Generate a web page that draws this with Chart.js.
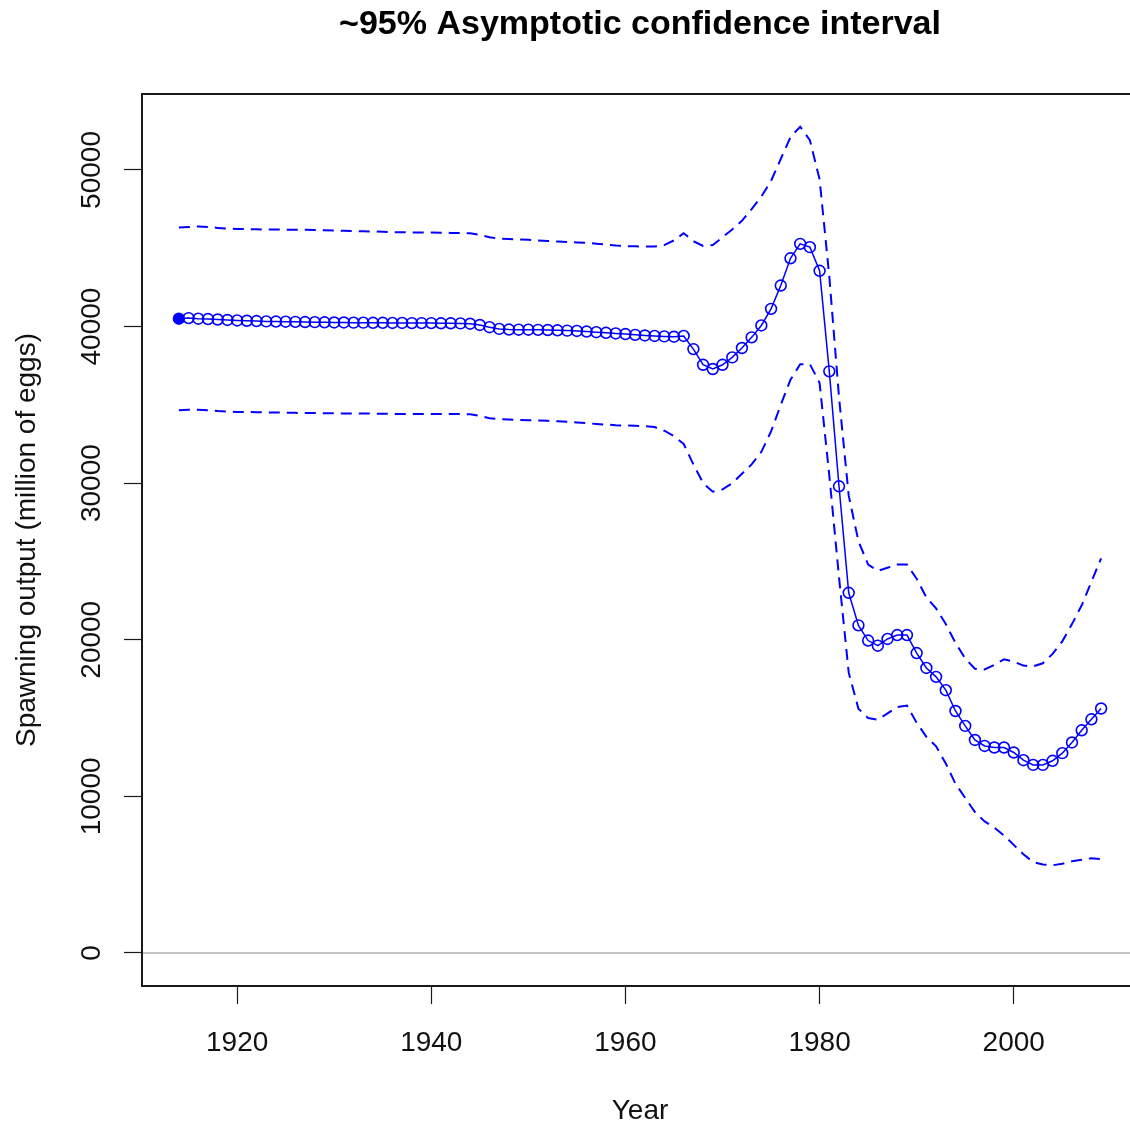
<!DOCTYPE html>
<html>
<head>
<meta charset="utf-8">
<script src="https://cdn.jsdelivr.net/npm/chart.js@4/dist/chart.umd.min.js"></script>
<style>
html,body{margin:0;padding:0;overflow:hidden;background:#ffffff;}
#wrap{width:1280px;height:1126px;position:relative;}
</style>
</head>
<body>
<div id="wrap"><canvas id="c" width="1280" height="1126"></canvas></div>
<script>
// ---- Data ----
const years = [1914,1915,1916,1917,1918,1919,1920,1921,1922,1923,1924,1925,1926,1927,1928,1929,
  1930,1931,1932,1933,1934,1935,1936,1937,1938,1939,1940,1941,1942,1943,1944,1945,1946,1947,1948,1949,
  1950,1951,1952,1953,1954,1955,1956,1957,1958,1959,1960,1961,1962,1963,1964,1965,1966,1967,1968,1969,
  1970,1971,1972,1973,1974,1975,1976,1977,1978,1979,1980,1981,1982,1983,1984,1985,1986,1987,1988,1989,
  1990,1991,1992,1993,1994,1995,1996,1997,1998,1999,2000,2001,2002,2003,2004,2005,2006,2007,2008,2009];

const spawningOutput = [40500,40540,40500,40480,40450,40420,40390,40370,40350,40330,40320,40310,40300,40290,40280,40270,
  40260,40260,40250,40250,40240,40240,40230,40230,40220,40220,40220,40210,40210,40200,40180,40100,39960,39850,39810,39800,
  39800,39790,39780,39760,39740,39720,39680,39640,39600,39560,39520,39470,39430,39400,39370,39350,39400,38560,37560,37290,
  37560,38030,38630,39310,40070,41130,42620,44360,45280,45070,43560,37140,29800,23000,20920,19950,19620,20050,20300,20300,
  19150,18200,17630,16780,15450,14500,13600,13220,13120,13120,12800,12310,12010,12010,12270,12760,13440,14220,14920,15610];

const upperCI = [46330,46360,46390,46360,46300,46250,46230,46220,46210,46200,46200,46190,46180,46180,46170,46150,
  46130,46110,46100,46080,46070,46050,46030,46020,46010,46000,46000,45990,45980,45970,45960,45860,45700,45610,45590,45570,
  45540,45500,45470,45430,45400,45370,45340,45290,45230,45170,45140,45120,45110,45110,45200,45500,45960,45450,45150,45200,
  45700,46200,46750,47500,48300,49300,50700,52100,52760,51900,49400,43200,35500,29200,26300,24800,24400,24600,24800,24800,
  23900,22700,22000,21000,19800,18800,18150,18100,18400,18750,18600,18350,18300,18500,19100,19900,21000,22200,23700,25200];

const lowerCI = [34650,34690,34690,34660,34600,34570,34550,34540,34530,34520,34510,34500,34490,34480,34480,34470,
  34460,34450,34450,34440,34440,34430,34420,34420,34420,34420,34420,34420,34420,34410,34400,34300,34150,34080,34060,34040,
  34020,34000,33980,33950,33920,33880,33830,33780,33740,33700,33680,33660,33650,33580,33350,33000,32500,31200,30000,29450,
  29600,30000,30600,31200,32000,33300,35000,36600,37600,37600,36400,30500,24000,17900,15600,15000,14900,15300,15700,15800,
  14700,13800,13200,12100,10800,9900,9000,8400,8000,7500,6900,6300,5800,5650,5600,5700,5850,5950,6050,6000];

const xTicks = [1920,1940,1960,1980,2000];
const yTicks = [0,10000,20000,30000,40000,50000];
const referenceLevel = 0;

const titleText = '~95% Asymptotic confidence interval';
const xTitle = 'Year';
const yTitle = 'Spawning output (million of eggs)';

// ---- Chart ----
const BLUE = '#0000ff';
const FONT = "'Liberation Sans', Arial, Helvetica, sans-serif";
const toXY = arr => years.map((yr, i) => ({x: yr, y: arr[i]}));

const boxPlugin = {
  id: 'boxAndRef',
  beforeDatasetsDraw(chart) {
    const {ctx, chartArea: a, scales} = chart;
    const yp = scales.y.getPixelForValue(referenceLevel);
    ctx.save();
    ctx.strokeStyle = '#c4c4c4';
    ctx.lineWidth = 2;
    ctx.beginPath();
    ctx.moveTo(a.left, yp);
    ctx.lineTo(a.right, yp);
    ctx.stroke();
    ctx.restore();
  },
  afterDraw(chart) {
    const {ctx, chartArea: a} = chart;
    ctx.save();
    ctx.strokeStyle = '#1a1a1a';
    ctx.lineWidth = 2;
    ctx.strokeRect(a.left, a.top, a.right - a.left, a.bottom - a.top);
    ctx.restore();
  }
};

new Chart(document.getElementById('c'), {
  type: 'line',
  data: {
    datasets: [
      {
        label: 'Upper',
        data: toXY(upperCI),
        borderColor: BLUE,
        borderWidth: 2,
        borderDash: [11, 7],
        pointRadius: 0,
        fill: false,
        tension: 0
      },
      {
        label: 'Lower',
        data: toXY(lowerCI),
        borderColor: BLUE,
        borderWidth: 2,
        borderDash: [11, 7],
        pointRadius: 0,
        fill: false,
        tension: 0
      },
      {
        label: 'Spawning output',
        data: toXY(spawningOutput),
        borderColor: BLUE,
        borderWidth: 1.5,
        pointRadius: 5.4,
        pointBorderWidth: 1.6,
        pointBorderColor: BLUE,
        pointBackgroundColor: ctx => ctx.dataIndex === 0 ? BLUE : 'rgba(0,0,0,0)',
        fill: false,
        tension: 0
      }
    ]
  },
  options: {
    responsive: false,
    animation: false,
    devicePixelRatio: 1,
    layout: {padding: 0},
    plugins: {
      legend: {display: false},
      tooltip: {enabled: false},
      title: {
        display: true,
        text: titleText,
        color: '#000',
        font: {family: FONT, size: 34, weight: 'bold', lineHeight: 1.2},
        padding: {top: 4, bottom: 49.2}
      }
    },
    scales: {
      x: {
        type: 'linear',
        min: 1910.2,
        max: 2012.8,
        afterBuildTicks: s => { s.ticks = xTicks.map(v => ({value: v})); },
        afterFit: s => { s.height = 140; },
        border: {display: false},
        grid: {display: true, drawOnChartArea: false, drawTicks: true, tickLength: 18, tickColor: '#1a1a1a', tickWidth: 1.2},
        ticks: {
          color: '#111', padding: 22, maxRotation: 0, minRotation: 0,
          font: {family: FONT, size: 28},
          callback: v => String(v)
        },
        title: {
          display: true, text: xTitle, color: '#111',
          font: {family: FONT, size: 28, lineHeight: 1.05},
          padding: {top: 0, bottom: 0}
        }
      },
      y: {
        type: 'linear',
        position: 'left',
        min: -2110,
        max: 54850,
        afterBuildTicks: s => { s.ticks = yTicks.map(v => ({value: v})); },
        afterFit: s => { s.width = 142; },
        border: {display: false},
        grid: {display: true, drawOnChartArea: false, drawTicks: true, tickLength: 18, tickColor: '#1a1a1a', tickWidth: 1.2},
        ticks: {
          color: '#111', padding: -7, minRotation: 90, maxRotation: 90, crossAlign: 'center',
          font: {family: FONT, size: 28},
          callback: v => String(v)
        },
        title: {
          display: true, text: yTitle, color: '#111',
          font: {family: FONT, size: 28, lineHeight: 1.2},
          padding: {top: 10, bottom: 0}
        }
      },
      yRightSpace: {
        type: 'linear',
        position: 'right',
        display: true,
        min: -2110,
        max: 54850,
        afterFit: s => { s.width = 142; },
        border: {display: false},
        grid: {display: false},
        ticks: {display: false}
      }
    }
  },
  plugins: [boxPlugin]
});
</script>
</body>
</html>
